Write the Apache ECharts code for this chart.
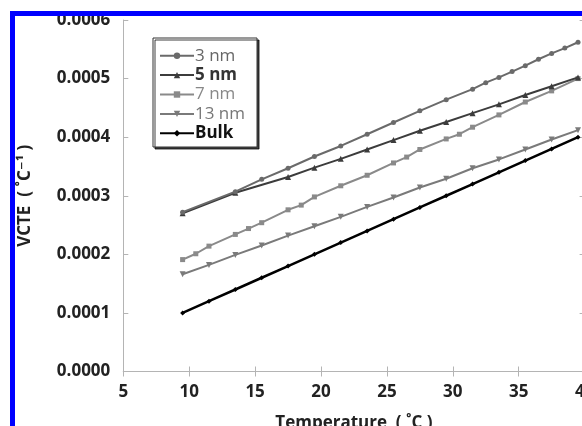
<!DOCTYPE html>
<html><head><meta charset="utf-8">
<script src="https://cdn.jsdelivr.net/npm/echarts@6/dist/echarts.min.js"></script>
<style>html,body{margin:0;padding:0;background:#fff}#c{width:582px;height:426px}</style>
</head><body><div id="c"></div>
<script>
// Data (Temperature in °C, VCTE in °C^-1)
const temps3 = [9.5, 13.5, 15.5, 17.5, 19.5, 21.5, 23.5, 25.5, 27.5, 29.5, 31.5, 32.5, 33.5, 34.5, 35.5, 36.5, 37.5, 38.5, 39.5];
const vcte3  = [0.000272, 0.000307, 0.000328, 0.000347, 0.000367, 0.000385, 0.000405, 0.000425, 0.000445, 0.000464, 0.000482, 0.000493, 0.000502, 0.000512, 0.000522, 0.000533, 0.000543, 0.000552, 0.000562];

const temps5 = [9.5, 13.5, 17.5, 19.5, 21.5, 23.5, 25.5, 27.5, 29.5, 31.5, 33.5, 35.5, 37.5, 39.5];
const vcte5  = [0.000270, 0.000305, 0.000332, 0.000348, 0.000363, 0.000379, 0.000395, 0.000411, 0.000426, 0.000441, 0.000456, 0.000472, 0.000487, 0.000502];

const temps7 = [9.5, 10.5, 11.5, 13.5, 14.5, 15.5, 17.5, 18.5, 19.5, 21.5, 23.5, 25.5, 26.5, 27.5, 29.5, 30.5, 31.5, 33.5, 35.5, 37.5, 39.5];
const vcte7  = [0.000191, 0.000201, 0.000214, 0.000234, 0.000244, 0.000254, 0.000276, 0.000284, 0.000298, 0.000317, 0.000335, 0.000356, 0.000366, 0.000379, 0.000397, 0.000405, 0.000417, 0.000438, 0.000460, 0.000479, 0.000500];

const temps13 = [9.5, 11.5, 13.5, 15.5, 17.5, 19.5, 21.5, 23.5, 25.5, 27.5, 29.5, 31.5, 33.5, 35.5, 37.5, 39.5];
const vcte13  = [0.000166, 0.000182, 0.000199, 0.000215, 0.000232, 0.000248, 0.000264, 0.000281, 0.000297, 0.000314, 0.000329, 0.000347, 0.000362, 0.000379, 0.000396, 0.000412];

const tempsBulk = [9.5, 11.5, 13.5, 15.5, 17.5, 19.5, 21.5, 23.5, 25.5, 27.5, 29.5, 31.5, 33.5, 35.5, 37.5, 39.5];
const vcteBulk  = [0.000100, 0.000120, 0.000140, 0.000160, 0.000180, 0.000200, 0.000220, 0.000240, 0.000260, 0.000280, 0.000300, 0.000320, 0.000340, 0.000360, 0.000380, 0.000400];

const seriesNames = ['3 nm', '5 nm', '7 nm', '13 nm', 'Bulk'];
const xTitle = 'Temperature  ( ˚C )';
const yTitle = 'VCTE  ( ˚C⁻¹ )';

const pair = (xs, ys) => xs.map((x, i) => [x, ys[i]]);
const FONT = '"Open Sans", "DejaVu Sans", sans-serif';
const axisGray = '#b4b4b4';

const styles = [
  {color: '#6a6a6a', symbol: 'circle', size: 5, rot: 0, w: 2, tc: '#666', fw: 'normal'},
  {color: '#3c3c3c', symbol: 'triangle', size: 6, rot: 0, w: 2, tc: '#333', fw: 'bold'},
  {color: '#8a8a8a', symbol: 'rect', size: 5, rot: 0, w: 2, tc: '#888', fw: 'normal'},
  {color: '#7a7a7a', symbol: 'triangle', size: 6, rot: 180, w: 2, tc: '#777', fw: 'normal'},
  {color: '#000000', symbol: 'diamond', size: 5, rot: 0, w: 2.5, tc: '#111', fw: 'bold'}
];
const datasets = [pair(temps3, vcte3), pair(temps5, vcte5), pair(temps7, vcte7), pair(temps13, vcte13), pair(tempsBulk, vcteBulk)];

const chart = echarts.init(document.getElementById('c'), null, {renderer: 'canvas'});
const option = {
  backgroundColor: '#fff',
  animation: false,
  grid: {left: 123.3, right: -2.6, top: 20, bottom: 54.5, outerBoundsMode: 'none', containLabel: false},
  legend: {
    orient: 'vertical', left: 153, top: 38,
    padding: [8, 12, 4, 6],
    itemWidth: 34, itemHeight: 8, itemGap: 0,
    backgroundColor: '#fff', borderColor: '#333', borderWidth: 1,
    shadowColor: 'rgba(0,0,0,0.75)', shadowOffsetX: 2, shadowOffsetY: 2, shadowBlur: 0,
    textStyle: {fontFamily: FONT, fontSize: 17, lineHeight: 19.4, padding: [0, 0, 0, -4]},
    data: seriesNames.map((n, i) => ({name: n, textStyle: {color: styles[i].tc, fontWeight: styles[i].fw}}))
  },
  xAxis: [{
    type: 'value', min: 5, max: 40, interval: 5, position: 'bottom',
    name: xTitle, nameLocation: 'middle', nameGap: 43,
    nameTextStyle: {fontFamily: FONT, fontSize: 17, fontWeight: 'bold', color: '#222'},
    axisLine: {show: true, lineStyle: {color: axisGray, width: 1}},
    axisTick: {show: true, inside: true, length: 5, lineStyle: {color: axisGray}},
    axisLabel: {fontFamily: FONT, fontSize: 17, fontWeight: 'bold', color: '#222', margin: 12, hideOverlap: false},
    splitLine: {show: false}
  }, {
    type: 'value', min: 5, max: 40, interval: 5, position: 'top',
    axisLine: {show: true, lineStyle: {color: axisGray, width: 1}},
    axisTick: {show: true, inside: true, length: 5, lineStyle: {color: axisGray}},
    axisLabel: {show: false}, splitLine: {show: false}
  }],
  yAxis: [{
    type: 'value', min: 0, max: 0.0006, interval: 0.0001, position: 'left',
    name: yTitle, nameLocation: 'middle', nameGap: 90, nameRotate: 90,
    nameTextStyle: {fontFamily: FONT, fontSize: 17, fontWeight: 'bold', color: '#222'},
    axisLine: {show: true, lineStyle: {color: axisGray, width: 1}},
    axisTick: {show: true, inside: true, length: 5, lineStyle: {color: axisGray}},
    axisLabel: {fontFamily: FONT, fontSize: 17, fontWeight: 'bold', color: '#222', margin: 13,
      formatter: v => v.toFixed(4)},
    splitLine: {show: false}
  }, {
    type: 'value', min: 0, max: 0.0006, interval: 0.0001, position: 'right',
    axisLine: {show: true, lineStyle: {color: axisGray, width: 1}},
    axisTick: {show: true, inside: true, length: 5, lineStyle: {color: axisGray}},
    axisLabel: {show: false}, splitLine: {show: false}
  }],
  series: seriesNames.map((n, i) => ({
    name: n, type: 'line', xAxisIndex: 0, yAxisIndex: 0,
    data: datasets[i],
    symbol: styles[i].symbol, symbolSize: styles[i].size, symbolRotate: styles[i].rot,
    showAllSymbol: true,
    lineStyle: {color: styles[i].color, width: styles[i].w},
    itemStyle: {color: styles[i].color},
    z: 10 - i
  })),
  graphic: [
    {type: 'rect', z: 100, shape: {x: 0, y: 0, width: 582, height: 11}, style: {fill: '#fff'}},
    {type: 'rect', z: 100, shape: {x: 0, y: 0, width: 10, height: 426}, style: {fill: '#fff'}},
    {type: 'rect', z: 101, shape: {x: 10, y: 11, width: 572, height: 5}, style: {fill: '#0000ff'}},
    {type: 'rect', z: 101, shape: {x: 10, y: 11, width: 5, height: 415}, style: {fill: '#0000ff'}}
  ]
};
chart.setOption(option);
</script></body></html>
